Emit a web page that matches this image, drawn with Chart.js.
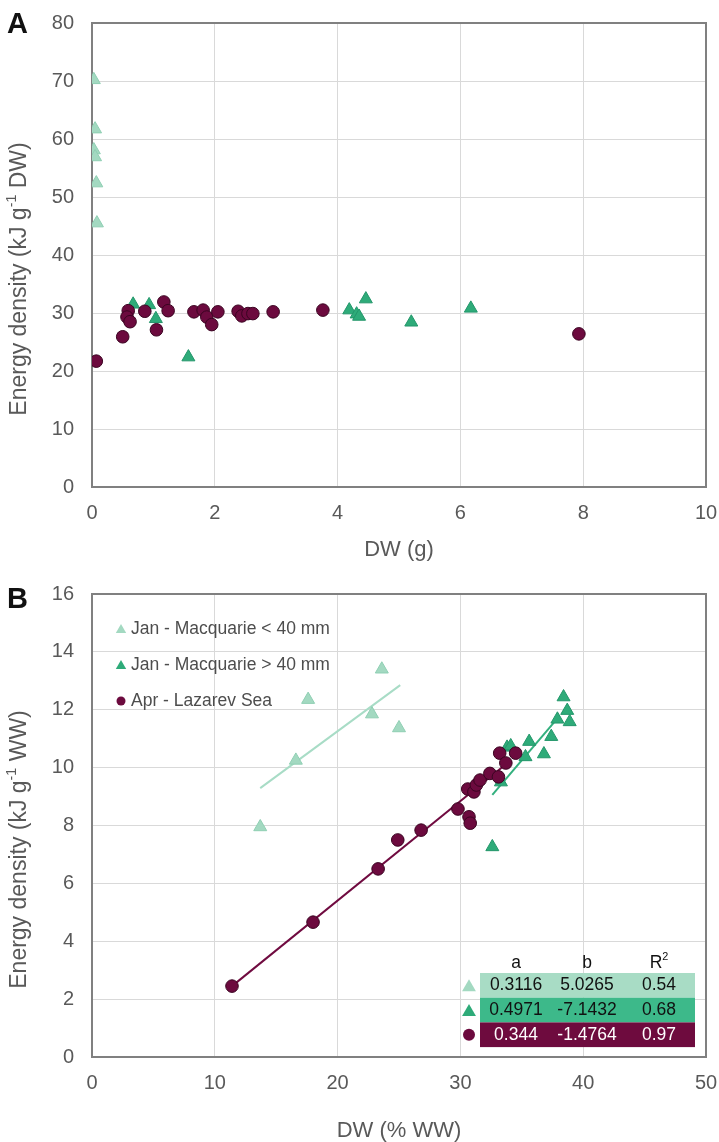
<!DOCTYPE html>
<html>
<head>
<meta charset="utf-8">
<script src="https://cdn.jsdelivr.net/npm/chart.js@4.4.0/dist/chart.umd.min.js"></script>
<style>
html, body { margin: 0; padding: 0; background: #fff; }
#wrap { position: relative; width: 719px; height: 1142px; }
.panel { position: absolute; left: 0; width: 719px; height: 571px; }
#pA { top: 0; }
#pB { top: 571px; }
</style>
</head>
<body>
<div id="wrap">
  <div class="panel" id="pA"><canvas id="chartA" width="719" height="571"></canvas></div>
  <div class="panel" id="pB"><canvas id="chartB" width="719" height="571"></canvas></div>
</div>
<script>
// Panel A: energy density (kJ/g DW) vs DW (g)
const aSmallX = [0.03, 0.05, 0.03, 0.05, 0.07, 0.08];
const aSmallY = [70.2, 61.7, 58.1, 56.9, 52.4, 45.5];
const aLargeX = [0.67, 0.93, 1.04, 1.57, 4.19, 4.31, 4.35, 4.46, 5.2, 6.17];
const aLargeY = [31.5, 31.4, 29.0, 22.4, 30.5, 29.8, 29.4, 32.4, 28.4, 30.8];
const aAprX = [0.07, 0.5, 0.59, 0.57, 0.62, 0.86, 1.05, 1.17, 1.24, 1.66, 1.81, 1.87, 1.95, 2.05, 2.38, 2.44, 2.54, 2.62, 2.95, 3.76, 7.93];
const aAprY = [21.7, 25.9, 30.4, 29.3, 28.5, 30.3, 27.1, 31.9, 30.4, 30.2, 30.5, 29.3, 28.0, 30.2, 30.3, 29.5, 29.9, 29.9, 30.2, 30.5, 26.4];

// Panel B: energy density (kJ/g WW) vs DW (% WW)
const bSmallX = [13.7, 16.6, 17.6, 22.8, 23.6, 25.0];
const bSmallY = [7.95, 10.25, 12.35, 11.85, 13.4, 11.37];
const bLargeX = [32.6, 33.3, 33.8, 34.1, 35.3, 35.6, 36.8, 37.4, 37.9, 38.4, 38.7, 38.9];
const bLargeY = [7.26, 9.5, 10.7, 10.75, 10.37, 10.9, 10.47, 11.07, 11.67, 12.44, 11.97, 11.58];
const bAprX = [11.4, 18.0, 23.3, 24.9, 26.8, 29.8, 30.6, 30.7, 30.8, 31.1, 31.3, 31.6, 32.4, 33.1, 33.2, 33.7, 34.5];
const bAprY = [2.45, 4.66, 6.5, 7.5, 7.84, 8.57, 9.26, 8.3, 8.08, 9.16, 9.4, 9.57, 9.8, 9.68, 10.5, 10.16, 10.5];

// fitted line end points
const bSmallFitX = [13.7, 25.1];
const bSmallFitY = [9.29, 12.85];
const bLargeFitX = [32.6, 37.8];
const bLargeFitY = [9.06, 11.65];
const bAprFitX = [11.4, 33.5];
const bAprFitY = [2.45, 10.05];

// regression table y = a x + b
const fitA = ['0.3116', '0.4971', '0.344'];
const fitB = ['5.0265', '-7.1432', '-1.4764'];
const fitR2 = ['0.54', '0.68', '0.97'];
const legendLabels = ['Jan - Macquarie < 40 mm', 'Jan - Macquarie > 40 mm', 'Apr - Lazarev Sea'];

const FONT = '"Liberation Sans", Arial, sans-serif';
const textColor = '#595959';
const gridColor = '#d9d9d9';
const frameColor = '#808080';

const series = [
    { fill: '#a3d9c1', line: '#8fcfb3', style: 'triangle' },
    { fill: '#2eab79', line: '#23966a', style: 'triangle' },
    { fill: '#6c0a3e', line: '#3a0421', style: 'circle' }
];
const fitColors = ['#a8dcc6', '#33b07e', '#700b40'];

const pts = (xs, ys) => xs.map((x, i) => ({ x: x, y: ys[i] }));

function marker(ctx, style, x, y, r, fill, stroke) {
    ctx.beginPath();
    if (style === 'triangle') {
        const s = r * Math.sin(Math.PI / 3);
        ctx.moveTo(x, y - r);
        ctx.lineTo(x + s, y + r / 2);
        ctx.lineTo(x - s, y + r / 2);
        ctx.closePath();
    } else {
        ctx.arc(x, y, r, 0, Math.PI * 2);
    }
    ctx.fillStyle = fill;
    ctx.fill();
    if (stroke) {
        ctx.lineWidth = 1;
        ctx.strokeStyle = stroke;
        ctx.stroke();
    }
}

// text with a superscript part, centred on x
function richText(ctx, parts, x, y, size, color) {
    ctx.textBaseline = 'middle';
    ctx.textAlign = 'left';
    ctx.fillStyle = color;
    let total = 0;
    parts.forEach(p => {
        ctx.font = (p.sup ? size * 0.62 : size) + 'px ' + FONT;
        p.w = ctx.measureText(p.t).width;
        total += p.w;
    });
    let cx = x - total / 2;
    parts.forEach(p => {
        ctx.font = (p.sup ? size * 0.62 : size) + 'px ' + FONT;
        ctx.fillText(p.t, cx, p.sup ? y - size * 0.33 : y);
        cx += p.w;
    });
}

function framePlugin(letter, letterY, yParts) {
    return {
        id: 'frame' + letter,
        beforeDatasetsDraw(chart) {
            const { ctx, chartArea: a } = chart;
            ctx.save();
            ctx.strokeStyle = frameColor;
            ctx.lineWidth = 2;
            ctx.strokeRect(a.left, a.top, a.right - a.left, a.bottom - a.top);
            ctx.restore();
        },
        afterDraw(chart) {
            const { ctx, chartArea: a } = chart;
            ctx.save();
            ctx.font = 'bold 29px ' + FONT;
            ctx.fillStyle = '#111';
            ctx.textBaseline = 'alphabetic';
            ctx.textAlign = 'left';
            ctx.fillText(letter, 7, letterY);
            ctx.translate(20, (a.top + a.bottom) / 2 + 24);
            ctx.rotate(-Math.PI / 2);
            richText(ctx, yParts, 0, 0, 23, textColor);
            ctx.restore();
        }
    };
}

const tableLegendPlugin = {
    id: 'tableLegend',
    afterDatasetsDraw(chart) {
        const ctx = chart.ctx;
        ctx.save();
        // legend
        legendLabels.forEach((label, i) => {
            const y = 58 + i * 36;
            const s = series[i];
            marker(ctx, s.style, 121, s.style === 'triangle' ? y + 1 : y, s.style === 'triangle' ? 6 : 4.5, s.fill, null);
            ctx.font = '17.5px ' + FONT;
            ctx.fillStyle = '#4d4d4d';
            ctx.textAlign = 'left';
            ctx.textBaseline = 'middle';
            ctx.fillText(label, 131, y);
        });
        // regression table
        const cols = [516, 587, 659];
        const left = 480, right = 695, top = 402, rowH = 24.7;
        ctx.font = '17.5px ' + FONT;
        ctx.fillStyle = '#111';
        ctx.textAlign = 'center';
        ctx.textBaseline = 'middle';
        ctx.fillText('a', cols[0], 392);
        ctx.fillText('b', cols[1], 392);
        richText(ctx, [{ t: 'R' }, { t: '2', sup: true }], cols[2], 392, 17.5, '#111');
        const rowFill = ['#a8dcc5', '#3db98a', '#6e0b3e'];
        const rowText = ['#111', '#111', '#fff'];
        for (let i = 0; i < 3; i++) {
            const y0 = top + i * rowH;
            ctx.fillStyle = rowFill[i];
            ctx.fillRect(left, y0, right - left, rowH);
            const s = series[i];
            const cy = y0 + rowH / 2;
            marker(ctx, s.style, 469, s.style === 'triangle' ? cy + 2 : cy, s.style === 'triangle' ? 8 : 6, s.fill, null);
            ctx.font = '17.5px ' + FONT;
            ctx.fillStyle = rowText[i];
            ctx.textAlign = 'center';
            ctx.textBaseline = 'middle';
            ctx.fillText(fitA[i], cols[0], cy);
            ctx.fillText(fitB[i], cols[1], cy);
            ctx.fillText(fitR2[i], cols[2], cy);
        }
        ctx.restore();
    }
};

function pointSet(data, s, order) {
    return {
        type: 'scatter',
        data: data,
        pointStyle: s.style,
        pointRadius: s.style === 'triangle' ? 7.5 : 6.3,
        pointHoverRadius: 7,
        backgroundColor: s.fill,
        borderColor: s.line,
        borderWidth: 1,
        order: order
    };
}

function fitSet(data, color) {
    return {
        type: 'line',
        data: data,
        borderColor: color,
        borderWidth: 2,
        pointRadius: 0,
        fill: false,
        order: 5
    };
}

// tick marks are invisible; their length stands in for the label gap
function scales(xMax, xStep, yMax, yStep, xTitle, bottomH) {
    const tickFont = { family: FONT, size: 20 };
    return {
        x: {
            type: 'linear', min: 0, max: xMax,
            ticks: { stepSize: xStep, color: textColor, font: tickFont, padding: 0 },
            grid: { color: gridColor, drawTicks: true, tickLength: 14, tickColor: 'rgba(0,0,0,0)' },
            border: { display: false },
            title: {
                display: true, text: xTitle, color: textColor,
                font: { family: FONT, size: 22, lineHeight: 1 },
                padding: { top: 0, bottom: bottomH.pad }
            },
            afterFit: s => { s.height = bottomH.h; }
        },
        y: {
            type: 'linear', min: 0, max: yMax,
            ticks: { stepSize: yStep, color: textColor, font: tickFont, padding: 0 },
            grid: { color: gridColor, drawTicks: true, tickLength: 18, tickColor: 'rgba(0,0,0,0)' },
            border: { display: false },
            afterFit: s => { s.width = 92; }
        }
    };
}

const baseOptions = {
    responsive: false,
    animation: false,
    layout: { padding: { top: 23, right: 13, left: 0, bottom: 0 } },
    plugins: { legend: { display: false }, tooltip: { enabled: false } }
};

new Chart(document.getElementById('chartA'), {
    type: 'scatter',
    data: {
        datasets: [
            pointSet(pts(aAprX, aAprY), series[2], 0),
            pointSet(pts(aLargeX, aLargeY), series[1], 1),
            pointSet(pts(aSmallX, aSmallY), series[0], 2)
        ]
    },
    options: Object.assign({}, baseOptions, {
        scales: scales(10, 2, 80, 10, 'DW (g)', { h: 84, pad: 10 })
    }),
    plugins: [framePlugin('A', 33, [{ t: 'Energy density (kJ g' }, { t: '-1', sup: true }, { t: ' DW)' }])]
});

new Chart(document.getElementById('chartB'), {
    type: 'scatter',
    data: {
        datasets: [
            pointSet(pts(bAprX, bAprY), series[2], 0),
            pointSet(pts(bLargeX, bLargeY), series[1], 1),
            pointSet(pts(bSmallX, bSmallY), series[0], 2),
            fitSet(pts(bSmallFitX, bSmallFitY), fitColors[0]),
            fitSet(pts(bLargeFitX, bLargeFitY), fitColors[1]),
            fitSet(pts(bAprFitX, bAprFitY), fitColors[2])
        ]
    },
    options: Object.assign({}, baseOptions, {
        scales: scales(50, 10, 16, 2, 'DW (% WW)', { h: 85, pad: 0 })
    }),
    plugins: [framePlugin('B', 37, [{ t: 'Energy density (kJ g' }, { t: '-1', sup: true }, { t: ' WW)' }]), tableLegendPlugin]
});
</script>
</body>
</html>
